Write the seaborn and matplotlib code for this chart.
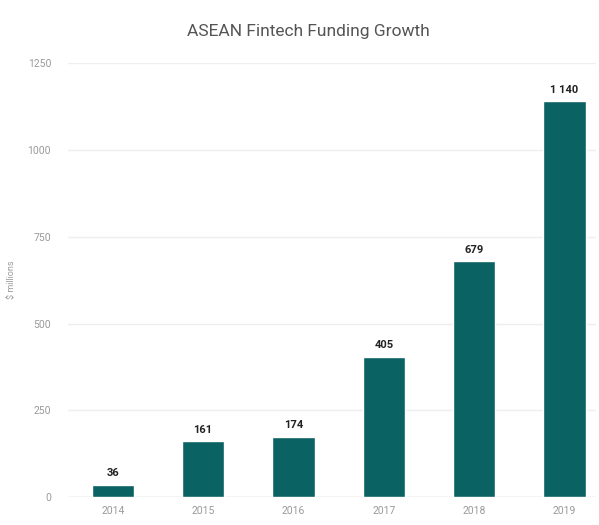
import pandas as pd
import matplotlib
matplotlib.use("Agg")
import matplotlib.pyplot as plt
import seaborn as sns

# data
years = ["2014", "2015", "2016", "2017", "2018", "2019"]
funding = [36, 161, 174, 405, 679, 1140]
labels = ["36", "161", "174", "405", "679", "1 140"]
yticks = [0, 250, 500, 750, 1000, 1250]

df = pd.DataFrame({"Year": years, "Funding": funding})

sns.set_theme(style="white")
plt.rcParams["font.family"] = ["Roboto", "DejaVu Sans"]

fig = plt.figure(figsize=(5.99, 5.25), dpi=100)
ax = fig.add_axes([0.113, 0.053, 0.882, 0.827])

sns.barplot(data=df, x="Year", y="Funding", color="#0b6262", width=0.47,
            saturation=1, ax=ax, zorder=3)

# value labels on top of each bar
for i, (v, lab) in enumerate(zip(funding, labels)):
    ax.text(i, v + 18, lab, ha="center", va="bottom", fontsize=8,
            fontweight="bold", color="#222222")

ax.set_ylim(0, 1250)
ax.set_xlim(-0.5, 5.35)
ax.set_yticks(yticks)
ax.set_yticklabels([str(t) for t in yticks])
ax.yaxis.grid(True, color="#eeeeee", linewidth=1, zorder=0)
ax.axhline(0, color="#d8d8d8", linewidth=1, zorder=1)
for s in ax.spines.values():
    s.set_visible(False)
ax.tick_params(axis="both", length=0, labelsize=7.5, colors="#9a9a9a")
ax.tick_params(axis="y", pad=12)
ax.tick_params(axis="x", pad=6)
ax.set_xlabel("")
ax.set_ylabel("$ millions", fontsize=6.5, color="#9a9a9a", labelpad=8)
fig.text(0.515, 0.94, "ASEAN Fintech Funding Growth", ha="center", va="center",
         fontsize=12.5, color="#555555")

fig.savefig("out.png", dpi=100)
